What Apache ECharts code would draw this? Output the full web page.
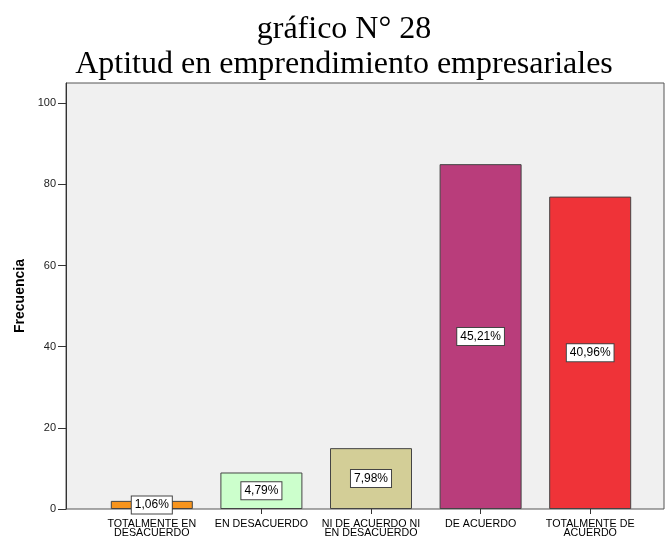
<!DOCTYPE html>
<html style="height: 100%">

<head>
    <meta charset="utf-8">
</head>

<body style="height: 100%; margin: 0; background: #fff">
    <div id="container" style="width: 665px; height: 540px"></div>

    <script type="text/javascript" src="https://cdn.jsdelivr.net/npm/echarts@6/dist/echarts.min.js"></script>

    <script type="text/javascript">

        var categories = [
            'TOTALMENTE EN\nDESACUERDO',
            'EN DESACUERDO',
            'NI DE ACUERDO NI\nEN DESACUERDO',
            'DE ACUERDO',
            'TOTALMENTE DE\nACUERDO'
        ];
        var frecuencia = [2, 9, 15, 85, 77];
        var barColors = ['#f7941d', '#ccffcc', '#d3ce97', '#b93d7b', '#ef3338'];
        var yTicks = [0, 20, 40, 60, 80, 100];

        var total = frecuencia.reduce(function (a, b) { return a + b; }, 0);

        var dom = document.getElementById('container');
        var myChart = echarts.init(dom);

        var titleFont = { fontFamily: 'Liberation Serif', fontSize: 32, fontWeight: 'normal', color: '#000' };

        var option = {
            backgroundColor: '#ffffff',
            animation: false,
            title: [
                { text: 'gráfico N° 28', left: 339, textAlign: 'center', top: 9, textStyle: titleFont },
                { text: 'Aptitud en emprendimiento empresariales', left: 339, textAlign: 'center', top: 44, textStyle: titleFont }
            ],
            grid: [
                // frame + y axis
                { left: 66, right: 1, top: 83, bottom: 31, show: true, backgroundColor: '#f0f0f0', borderColor: '#555', borderWidth: 1 },
                // bars
                { left: 97, right: 20, top: 83, bottom: 31 }
            ],
            xAxis: [
                { gridIndex: 0, type: 'value', min: 0, max: 1, show: false },
                {
                    gridIndex: 1,
                    type: 'category',
                    data: categories,
                    axisLine: { show: false },
                    axisTick: { show: true, alignWithLabel: true, length: 5, lineStyle: { color: '#333' } },
                    axisLabel: {
                        interval: 0,
                        margin: 11,
                        fontFamily: 'Liberation Sans',
                        fontSize: 10.7,
                        lineHeight: 9,
                        color: '#000'
                    }
                }
            ],
            yAxis: [
                {
                    gridIndex: 0,
                    type: 'value',
                    min: 0,
                    max: 105,
                    interval: 20,
                    name: 'Frecuencia',
                    nameLocation: 'middle',
                    nameGap: 39,
                    nameTextStyle: { fontFamily: 'Liberation Sans', fontSize: 14, fontWeight: 'bold', color: '#000' },
                    splitLine: { show: false },
                    axisLine: { show: true, lineStyle: { color: '#333' } },
                    axisTick: { show: true, length: 8, lineStyle: { color: '#333' }, customValues: yTicks },
                    axisLabel: {
                        margin: 10,
                        fontFamily: 'Liberation Sans',
                        fontSize: 11,
                        color: '#222',
                        customValues: yTicks
                    }
                },
                { gridIndex: 1, type: 'value', min: 0, max: 105, show: false }
            ],
            series: [
                {
                    type: 'bar',
                    xAxisIndex: 1,
                    yAxisIndex: 1,
                    barWidth: 82,
                    data: frecuencia.map(function (v, i) {
                        return { value: v, itemStyle: { color: barColors[i] } };
                    }),
                    itemStyle: { borderColor: '#444', borderWidth: 1 },
                    label: {
                        show: true,
                        position: 'inside',
                        formatter: function (p) {
                            return (p.value / total * 100).toFixed(2).replace('.', ',') + '%';
                        },
                        fontFamily: 'Liberation Sans',
                        fontSize: 12,
                        color: '#000',
                        backgroundColor: '#fff',
                        borderColor: '#444',
                        borderWidth: 1,
                        padding: [3, 3, 2, 3]
                    }
                }
            ]
        };

        myChart.setOption(option);

    </script>
</body>

</html>
